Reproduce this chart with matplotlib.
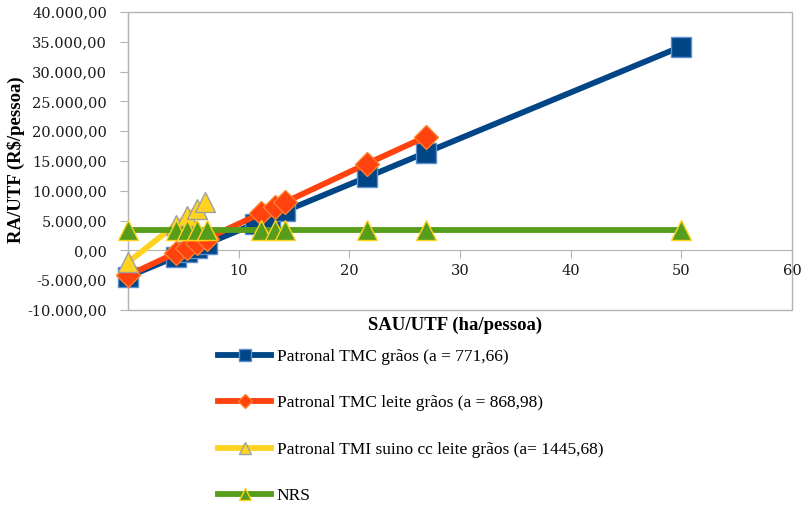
import matplotlib.pyplot as plt
import matplotlib.patches as mpatches
from matplotlib.ticker import FuncFormatter

# data (SAU/UTF in ha/pessoa, RA/UTF in R$/pessoa)
tmc_graos_x = [0, 4.3, 5.3, 6.2, 7.1, 11.5, 12.8, 14.2, 21.6, 26.9, 50.0]
tmc_graos_y = [-4400, -1100, -300, 400, 1100, 4500, 5500, 6600, 12300, 16400, 34200]

tmc_leite_x = [0, 4.3, 5.3, 6.2, 7.1, 12.0, 13.3, 14.2, 21.6, 26.9]
tmc_leite_y = [-4200, -450, 400, 1200, 1950, 6200, 7350, 8100, 14550, 19050]

tmi_suino_x = [0, 4.3, 5.3, 6.2, 7.0]
tmi_suino_y = [-2000, 4300, 5700, 7000, 8100]

nrs_x = [0, 4.3, 5.3, 6.2, 7.1, 12.0, 13.3, 14.2, 21.6, 26.9, 50.0]
nrs_y = [3400] * len(nrs_x)

labels = ['Patronal TMC grãos (a = 771,66)',
          'Patronal TMC leite grãos (a = 868,98)',
          'Patronal TMI suino cc leite grãos (a= 1445,68)',
          'NRS']

plt.rcParams['font.family'] = ['Liberation Serif', 'DejaVu Serif']

fig = plt.figure(figsize=(8.05, 5.05), dpi=100)
ax = fig.add_axes([128/805, 1 - 310/505, (792 - 128)/805, (310 - 12)/505])

lw = 4.2
common = dict(lw=lw, clip_on=False)
h1, = ax.plot(tmc_graos_x, tmc_graos_y, color='#004586', marker='s', ms=15,
              mfc='#004586', mec='#5b8fd0', mew=1.0, label=labels[0], zorder=3, **common)
h2, = ax.plot(tmc_leite_x, tmc_leite_y, color='#ff420e', marker='D', ms=12.5,
              mfc='#ff420e', mec='#ff7f2a', mew=1.0, label=labels[1], zorder=4, **common)
h3, = ax.plot(tmi_suino_x, tmi_suino_y, color='#ffd320', marker='^', ms=15,
              mfc='#ffd320', mec='#a0a0a0', mew=1.0, label=labels[2], zorder=5, **common)
h4, = ax.plot(nrs_x, nrs_y, color='#579d1c', marker='^', ms=15,
              mfc='#579d1c', mec='#ffd320', mew=1.0, label=labels[3], zorder=6, **common)

ax.set_xlim(0, 60)
ax.set_ylim(-10000, 40000)
ax.set_xticks([0, 10, 20, 30, 40, 50, 60])
ax.set_yticks(range(-10000, 40001, 5000))

def br_fmt(v, pos):
    s = f'{v:,.2f}'
    return s.replace(',', 'X').replace('.', ',').replace('X', '.')

ax.yaxis.set_major_formatter(FuncFormatter(br_fmt))

for side in ('top', 'right'):
    ax.spines[side].set_visible(False)
ax.spines['bottom'].set_position(('data', 0))
ax.spines['left'].set_color('#b3b3b3')
ax.spines['bottom'].set_color('#b3b3b3')
ax.add_patch(mpatches.Rectangle((0, 0), 1, 1, transform=ax.transAxes, fill=False,
                                edgecolor='#b3b3b3', lw=1.0, clip_on=False, zorder=0))

ax.tick_params(axis='y', direction='out', length=6, color='#b3b3b3', pad=9,
               labelcolor='#1a1a1a')
ax.tick_params(axis='x', direction='out', length=6, color='#b3b3b3', pad=4,
               labelcolor='#1a1a1a')
for t in ax.get_yticklabels() + ax.get_xticklabels():
    t.set_fontfamily('DejaVu Serif')
    t.set_fontsize(10.5)
    t.set_zorder(10)

fig.text(16/805, 1 - 160/505, 'RA/UTF (R$/pessoa)', fontsize=13.5, fontweight='bold',
         rotation=90, ha='center', va='center')
fig.text(455/805, 1 - 325/505, 'SAU/UTF (ha/pessoa)', fontsize=13.5, fontweight='bold',
         ha='center', va='center')

fig.legend(handles=[h1, h2, h3, h4], loc='upper left', bbox_to_anchor=(202/805, 1 - 333/505),
           frameon=False, fontsize=12.5, handlelength=3.1, labelspacing=1.75,
           handletextpad=0.3, markerscale=0.55)

fig.savefig('out.png', dpi=100)
